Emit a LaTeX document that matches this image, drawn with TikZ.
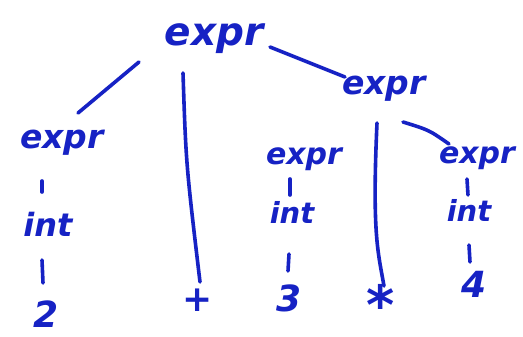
\documentclass[tikz,border=0pt]{standalone}
\usepackage{fontspec}
\setmainfont{DejaVu Sans}
\usetikzlibrary{calc}
\definecolor{ink}{RGB}{22,34,196}
\begin{document}
\begin{tikzpicture}[x=1pt,y=-1pt,
  lbl/.style={text=ink,inner sep=0pt,font=\bfseries\itshape\fontsize{#1}{#1}\selectfont},
  lbl/.default=33,
  wire/.style={draw=ink,line width=3.6pt,line cap=round}]
\fill[white] (0,0) rectangle (523,337);
\useasboundingbox (0,0) rectangle (523,337);
% nodes
\node[lbl=39] (root) at (214,39) {expr};
\node[lbl] (rexpr) at (384,89) {expr};
\node[lbl] (lexpr) at (62,143) {expr};
\node[lbl=30] (mexpr) at (304,159) {expr};
\node[lbl=30] (rrexpr) at (477,158) {expr};
\node[lbl=32] (lint) at (48,224) {int};
\node[lbl=29] (mint) at (292,212) {int};
\node[lbl=29] (rrint) at (469,210) {int};
\node[lbl=36] (two) at (46,314) {2};
\node[lbl=36] (plus) at (198,300) {+};
\node[lbl=36] (three) at (289,298) {3};
\node[lbl=54] (star) at (381,304) {*};
\node[lbl=36] (four) at (474,284) {4};
% connectors
\draw[wire] ($(root)+(-75,23)$) -- ($(lexpr)+(16,-30)$);
\draw[wire] ($(root)+(-31,34)$) .. controls ($(root)+(-28,125)$) .. ($(plus)+(2,-18)$);
\draw[wire] ($(root)+(56,8)$) -- ($(rexpr)+(-39,-12)$);
\draw[wire] ($(rexpr)+(-7,34)$) .. controls ($(rexpr)+(-12,145)$) and ($(star)+(-3,-52)$) .. ($(star)+(3,-18)$);
\draw[wire] ($(rexpr)+(19,33)$) .. controls ($(rexpr)+(45,41)$) .. ($(rrexpr)+(-28,-14)$);
\draw[wire] ($(lexpr)+(-20,38)$) -- ($(lint)+(-6,-32)$);
\draw[wire] ($(lint)+(-6,36)$) -- ($(two)+(-3,-31)$);
\draw[wire] ($(mexpr)+(-14,20)$) -- ($(mint)+(-2,-17)$);
\draw[wire] ($(mint)+(-3,42)$) -- ($(three)+(-1,-27)$);
\draw[wire] ($(rrexpr)+(-10,21)$) -- ($(rrint)+(-1,-15)$);
\draw[wire] ($(rrint)+(0,35)$) -- ($(four)+(-4,-22)$);
\end{tikzpicture}
\end{document}
